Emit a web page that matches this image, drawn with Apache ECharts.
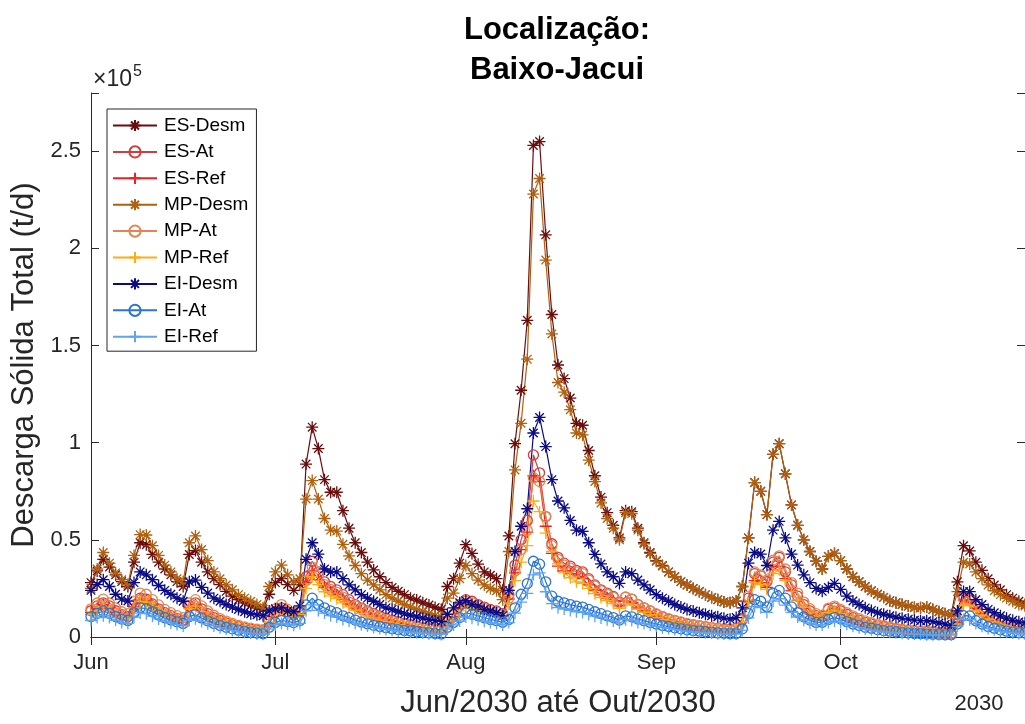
<!DOCTYPE html>
<html>
<head>
<meta charset="utf-8">
<script src="https://cdn.jsdelivr.net/npm/echarts@6/dist/echarts.min.js"></script>
<style>
  html, body { margin: 0; padding: 0; background: #fff; }
  #chart { width: 1025px; height: 724px; }
</style>
</head>
<body>
<div id="chart"></div>
<script>
// Daily total solid discharge, 1 Jun 2030 .. 31 Oct 2030 (values in 10^3 t/d)
const START_UTC = Date.UTC(2030, 5, 1);
const N_DAYS = 153;
const MONTH_TICK_DAYS = [0, 30, 61, 92, 122];
const MONTH_LABELS = ['Jun', 'Jul', 'Aug', 'Sep', 'Oct'];
const Y_TICK_STEP = 50000;
const Y_MAX = 280000;
const UNIT = 1000;

const SERIES_NAMES = ['ES-Desm', 'ES-At', 'ES-Ref', 'MP-Desm', 'MP-At', 'MP-Ref', 'EI-Desm', 'EI-At', 'EI-Ref'];

const ES_DESM = [28,34,40,36,32,28.5,26, 38.5,48.5,47.5,42.5,38.5,35,32,28.5,26,
  42.5,44.5,38.5,33.5,30,27,23.5,21,19.2,17.6,16.2,15,14.2, 22,28,30,27,24,27,
  89,108,97,81,74.5,74.5,65,56,48.5,43.5,38.5,34.5,31,28,25.5,23.5,21.8,20,19,17.6,16.5,15.2,14.2,
  26,30,38,47.5,43,37.5,33.5,31.8,30,24,
  52,99.5,127,163,253,255,207,166,140,133,123,110,109,96,83,72,64,57.5,51,
  65,64.5,56,48.5,43.5,39.3,36.8,33.5,31,28.5,26.8,25,23.4,21.8,20.3,19.2,18,17.6,18.5,
  26,51,79.5,75,63,94,99.5,84,68,57.5,50,44,39,35,41.5,43,39.3,35,31,28.4,26,23.8,22,20.4,18.7,17.6,16.7,15.9,15.2,15,15.5,14.2,13,12,11.4,
  28.4,47,44.3,38.5,34.3,30,26.8,24.3,21.8,20,18.4,16.7];

const ES_AT = [13.5,16,17.6,16,13.5,11.5,10.5, 16.5,20,19.5,17,14.5,12.5,11,9.5,8.5,
  16,17.6,14.5,12,10,8.5,7.2,6.2,5.3,4.6,4,3.6,3.4, 8,13,15,13,11.5,13,
  31,39,33.5,28.4,26,24.3,21.8,19.2,16.7,15,13.4,12,10.9,9.7,8.7,7.9,7,6.4,5.7,5,4.5,4,3.8,
  8.4,11.7,16.7,19.2,18.4,16.7,15.4,14.2,13.4,12,
  21.7,37,50,60,93.7,84.5,62,48,41,38,36.5,34.3,33.5,30,26.8,24.3,22.6,20.9,18,
  20.5,19.5,16.7,15,13.4,11.7,10.4,9.2,8.4,7.5,6.7,6.2,5.7,5.2,4.8,4.4,4.1,4,4.4,
  9,20,32.6,31.5,28.5,38.5,41,33.5,26.8,21,16.7,13.4,11,10.5,14.2,15,13.4,11.7,10,8.7,7.5,6.7,5.9,5.4,4.7,4.2,3.7,3.3,3,2.8,2.7,2.4,2.1,1.9,1.8,
  8.4,21,20,16.5,13.5,11,9.2,7.8,6.7,5.8,5,4.4];

const ES_REF = [12.5,14.5,16.5,15,12.5,10.5,9.5, 15.5,19,18.5,16,13.5,11.5,10,8.8,7.8,
  15,16.5,13.5,11,9.2,7.8,6.6,5.6,4.8,4.2,3.6,3.2,3, 7.5,12,14,12,10.5,12,
  28,34,29.5,25.5,23.3,21.8,19.5,17.2,15,13.4,12,10.8,9.7,8.7,7.8,7,6.3,5.7,5.1,4.5,4,3.6,3.4,
  7.5,10.5,15,17.2,16.5,15,13.8,12.7,12,10.8,
  19.5,33,45,54,83,80,57,43,36.5,34,32.6,30.7,30,26.8,24,21.8,20.2,18.7,16,
  18.4,17.5,15,13.4,12,10.5,9.3,8.2,7.5,6.7,6,5.5,5.1,4.7,4.3,3.9,3.7,3.6,3.9,
  8,18,29,28,25.5,34.5,36.5,30,24,18.8,15,12,9.8,9.4,12.7,13.4,12,10.5,9,7.8,6.7,6,5.3,4.8,4.2,3.8,3.3,3,2.7,2.5,2.4,2.1,1.9,1.7,1.6,
  7.5,19,18,14.8,12,9.8,8.2,7,6,5.2,4.5,4];

const MP_DESM = [25,35,43.5,38,33,29.5,27, 42,52.7,52.5,47,42,37,33.5,30,28.4,
  48.5,52,45,39.3,33.5,30,26.8,24.3,21.8,20,18.4,16.7,15, 26,33.5,37,32,28.4,30,
  71,80.5,71,61,55,54.5,47.7,41.8,36.8,32.6,29.3,26.8,24.3,21.8,20,18.4,16.7,15.4,14.2,13,12,11,10.4,
  20,22.6,30,36.8,32.6,29.3,26.8,25,23.8,19.2,
  44,86,110,143,228,236,194,156,131,126,117,105,104,91,80,69,61,56,50,
  64,63.5,55,48,43,39,36.5,33.5,31,28.5,26.8,25,23.4,21.8,20.3,19.2,18,17.6,18.5,
  26,51,79.5,75,63,94,99.5,84,68,57.5,50,44,39,35,41.5,43,39.3,35,31,28.4,26,23.8,22,20.4,18.7,17.6,16.7,15.9,15.2,15,15.5,14.2,13,12,11.4,
  23.4,38.5,37.6,33.5,30,26.8,23.8,21.8,20,18.4,16.7,15.9];

const MP_AT = [14.5,17.5,19.5,17.5,15,13,12, 18.5,22.6,22,19.2,16.5,14.2,12.5,11,10,
  17.5,19.2,16,13.4,11.2,9.5,8.2,7,6,5.2,4.6,4.1,3.8, 9,14.5,16.7,14.2,12.5,14,
  29,36,31.5,27,24.5,23,20.5,18,15.9,14.2,12.7,11.4,10.3,9.2,8.3,7.5,6.7,6,5.4,4.9,4.4,4,3.7,
  8,11.2,15.9,18.4,17.6,16,14.8,13.7,12.8,11.5,
  20,34,45,55,82,80,62,47,40,37,35.5,33.5,32.6,29.3,26.2,23.8,22,20.4,17.6,
  20.5,19.5,16.7,15,13.4,11.9,10.6,9.5,8.6,7.8,7,6.4,5.9,5.4,5,4.6,4.3,4.2,4.6,
  9.5,21,33.5,32,29.3,39.5,41.8,35,28,22.6,18,14.6,12,11.2,14.8,15.9,14.2,12.5,10.9,9.5,8.3,7.4,6.6,5.9,5.2,4.6,4.1,3.7,3.4,3.2,3.1,2.8,2.5,2.2,2,
  8,19.5,19,16,13.2,10.9,9.2,7.8,6.7,5.8,5.1,4.5];

const MP_REF = [11.5,13.5,15.5,14,12,10.3,9.4, 15,18.4,18,15.7,13.4,11.5,10,8.8,8,
  14.5,15.9,13,10.9,9.2,7.8,6.7,5.7,4.9,4.3,3.8,3.4,3.1, 7.5,12,13.8,11.7,10.3,11.5,
  25,31,27,23.3,21.2,19.8,17.6,15.5,13.7,12.2,10.9,9.8,8.8,7.9,7.1,6.4,5.7,5.1,4.6,4.2,3.8,3.4,3.2,
  6.8,9.6,13.4,15.4,14.8,13.4,12.4,11.5,10.8,9.7,
  17,29,38.5,47,70,64.5,53.5,44,37.6,33,30.5,28.4,27.6,25,22.3,20.3,18.7,17.2,14.8,
  17.2,16.4,14.2,12.7,11.4,10.1,9,8.1,7.3,6.6,6,5.5,5,4.6,4.2,3.9,3.6,3.5,3.9,
  8,17.6,28,27,24.5,32.6,34.5,29,23.5,19,15.3,12.4,10.2,9.6,12.5,13.4,12,10.6,9.2,8,7,6.3,5.6,5,4.4,3.9,3.5,3.1,2.9,2.7,2.6,2.4,2.1,1.9,1.7,
  6.8,16.5,16,13.4,11.2,9.2,7.8,6.6,5.7,4.9,4.3,3.8];

const EI_DESM = [24,27,29.5,26,22,19.5,18.5, 28,33.5,32,29.5,26.5,24,22,20,18.4,
  28.4,29.3,25.5,22.6,20,18.4,16.7,15.4,14.2,13,12,11.4,10.9, 13.4,14.5,15,13.4,13,16,
  40,48.5,42.7,35,33.5,33.5,30,26.8,24.3,21.8,20,18.4,16.7,15,14.2,13,12,11.2,10.4,9.7,8.9,8.4,8,
  11.7,15,17.6,18.7,16.7,15.9,14.2,13.4,12.5,11,
  24,44,57,66,105,113,98,81,70,66.5,60,55,54.4,48.5,42.5,37.6,33.5,31,27.6,
  33.5,32.6,29.3,26.8,24.3,21.8,20,18.4,16.7,15.4,14.2,13.4,12.5,11.7,10.9,10.4,9.7,9.2,10,
  15,38,43.5,42.7,36.8,55,59.5,51,42.7,37,32,28,25,23.5,25.5,27.6,24.5,21,18.5,16.7,15,13.7,12.5,11.7,10.9,10.2,9.6,9.2,8.7,8.4,8.4,7.9,7.2,6.6,5.9,
  13.4,23.4,23.4,19.2,16.7,14.2,12.5,10.9,9.7,8.6,7.8,7.3];

const EI_AT = [10.5,12.2,13.4,12.2,10.5,9.2,8.5, 12.5,15,14.6,13,11.3,9.9,8.8,7.8,7,
  10.5,11.5,9.8,8.3,7,5.9,5,4.2,3.5,2.9,2.4,2,1.7, 5,7.5,8.5,8,7.4,8.5,
  16.5,20,16.7,15,13.4,12.5,10.9,10,8.7,7.7,6.8,6,5.4,4.8,4.3,3.8,3.4,3.1,2.7,2.4,2.1,1.8,1.6,
  5,7.5,10,12.5,11.7,10.9,9.9,9,8.4,7.6,
  9,15,22,27.5,39,37.5,28.4,21,18.4,17.6,16.7,15.9,15.4,14.2,13,12,10.9,10,8.7,
  10.9,10.4,9.2,8.4,7.5,6.7,5.9,5.4,4.7,4.2,3.7,3.3,3,2.7,2.4,2.1,1.9,1.7,1.8,
  4.2,12,19.2,18.4,15.5,22.6,24,20,15.5,12.5,10.4,8.7,7.5,7.6,9,10,9.2,7.9,6.7,5.9,5,4.5,3.8,3.3,3,2.7,2.3,2,1.8,1.7,1.5,1.4,1.3,1.2,1.2,
  6.7,11,10.9,8.4,6.7,5.4,4.5,3.7,3,2.5,2.2,2];

const EI_REF = [8.5,10,11,10,8.6,7.5,7, 10.2,12.3,12,10.7,9.3,8.1,7.2,6.4,5.7,
  8.6,9.4,8,6.8,5.7,4.8,4.1,3.4,2.9,2.4,2,1.6,1.4, 4.1,6.2,7,6.6,6.1,7,
  13.5,16.5,13.7,12.3,11,10.3,9,8.2,7.1,6.3,5.6,4.9,4.4,3.9,3.5,3.1,2.8,2.5,2.2,2,1.7,1.5,1.3,
  4.1,6.2,8.2,10.3,9.6,8.9,8.1,7.4,6.9,6.2,
  7.4,12.3,18,22.5,32,33,23.3,17.2,15.1,14.4,13.7,13,12.6,11.6,10.7,9.8,8.9,8.2,7.1,
  8.9,8.5,7.5,6.9,6.2,5.5,4.8,4.4,3.9,3.4,3,2.7,2.5,2.2,2,1.7,1.6,1.4,1.5,
  3.4,9.8,15.7,15.1,12.7,18.5,19.7,16.4,12.7,10.3,8.5,7.1,6.2,6.2,7.4,8.2,7.5,6.5,5.5,4.8,4.1,3.7,3.1,2.7,2.5,2.2,1.9,1.6,1.5,1.4,1.2,1.1,1.1,1,1,
  5.5,9,8.9,6.9,5.5,4.4,3.7,3,2.5,2.1,1.8,1.6];

const SERIES_VALUES = [ES_DESM, ES_AT, ES_REF, MP_DESM, MP_AT, MP_REF, EI_DESM, EI_AT, EI_REF];
const SERIES_COLORS = ['#6b0d0d', '#d23c3c', '#f41e1e', '#b0600e', '#e38552', '#ffac10', '#0b0b86', '#2a74d2', '#5ea4f2'];

// Marker shapes: asterisk, open circle and plus, drawn as stroked outlines
const STAR = 'path://M0,-10L0,10M-10,0L10,0M-7.1,-7.1L7.1,7.1M-7.1,7.1L7.1,-7.1';
const PLUS = 'path://M0,-10L0,10M-10,0L10,0';
const SERIES_MARKERS = [STAR, 'circle', PLUS, STAR, 'circle', PLUS, STAR, 'circle', PLUS];

const FONT = "'Liberation Sans', Arial, Helvetica, sans-serif";
const AXIS_COLOR = '#2b2b2b';

const days = [];
for (let i = 0; i < N_DAYS; i++) {
  days.push(new Date(START_UTC + i * 86400000).toISOString().slice(0, 10));
}
const isMonthStart = (i) => MONTH_TICK_DAYS.indexOf(i) >= 0;

const series = SERIES_NAMES.map((name, k) => ({
  name,
  type: 'line',
  data: SERIES_VALUES[k].map(v => v * UNIT),
  symbol: SERIES_MARKERS[k],
  symbolSize: SERIES_MARKERS[k] === 'circle' ? 10 : 12,
  showAllSymbol: true,
  color: SERIES_COLORS[k],
  lineStyle: { color: SERIES_COLORS[k], width: 1.2 },
  itemStyle: { color: 'rgba(0,0,0,0)', borderColor: SERIES_COLORS[k], borderWidth: 1.3 },
  emphasis: { disabled: true },
  silent: true,
  z: 2
}));

const chart = echarts.init(document.getElementById('chart'), null, { renderer: 'canvas' });
chart.setOption({
  animation: false,
  backgroundColor: '#ffffff',
  textStyle: { fontFamily: FONT },
  grid: { left: 91, top: 93, width: 936, height: 557, containLabel: false },
  legend: {
    data: SERIES_NAMES,
    orient: 'vertical',
    left: 107,
    top: 109,
    padding: [7, 8, 5, 5],
    itemWidth: 44,
    itemHeight: 14,
    itemGap: 7.4,
    backgroundColor: '#ffffff',
    borderColor: '#262626',
    borderWidth: 1,
    borderRadius: 0,
    selectedMode: false,
    textStyle: { fontFamily: FONT, fontSize: 19, color: '#000', lineHeight: 14, padding: [0, 0, 0, 2] }
  },
  xAxis: [
    {
      type: 'category',
      data: days,
      boundaryGap: false,
      position: 'bottom',
      axisLine: { show: true, lineStyle: { color: AXIS_COLOR, width: 1 } },
      axisTick: { show: true, inside: true, length: 8, interval: isMonthStart, lineStyle: { color: AXIS_COLOR } },
      axisLabel: {
        interval: isMonthStart,
        formatter: (val, i) => MONTH_LABELS[MONTH_TICK_DAYS.indexOf(i)] || '',
        fontSize: 22, color: '#262626', margin: 15, fontFamily: FONT
      },
      splitLine: { show: false },
      name: 'Jun/2030 até Out/2030',
      nameLocation: 'middle',
      nameGap: 51,
      nameTextStyle: { fontSize: 31, color: '#262626', fontFamily: FONT }
    },
    {
      type: 'category',
      data: days,
      boundaryGap: false,
      position: 'top',
      axisLine: { show: true, lineStyle: { color: AXIS_COLOR, width: 1 } },
      axisTick: { show: true, inside: true, length: 8, interval: isMonthStart, lineStyle: { color: AXIS_COLOR } },
      axisLabel: { show: false },
      splitLine: { show: false }
    }
  ],
  yAxis: [
    {
      type: 'value',
      min: 0,
      max: Y_MAX,
      interval: Y_TICK_STEP,
      position: 'left',
      axisLine: { show: true, lineStyle: { color: AXIS_COLOR, width: 1 } },
      axisTick: { show: true, inside: true, length: 8, lineStyle: { color: AXIS_COLOR } },
      axisLabel: {
        formatter: v => (v % Y_TICK_STEP === 0 ? String(v / 1e5) : ''),
        fontSize: 22, color: '#262626', margin: 10, fontFamily: FONT
      },
      splitLine: { show: false },
      name: 'Descarga Sólida Total (t/d)',
      nameLocation: 'middle',
      nameGap: 40,
      nameTextStyle: { fontSize: 31, color: '#262626', fontFamily: FONT }
    },
    {
      type: 'value',
      min: 0,
      max: Y_MAX,
      interval: Y_TICK_STEP,
      position: 'right',
      axisLine: { show: true, lineStyle: { color: AXIS_COLOR, width: 1 } },
      axisTick: { show: true, inside: true, length: 8, lineStyle: { color: AXIS_COLOR } },
      axisLabel: { show: false },
      splitLine: { show: false }
    }
  ],
  graphic: [
    { type: 'text', x: 557, y: 30, style: { text: 'Localização:', fontFamily: FONT, fontSize: 31, fontWeight: 'bold', fill: '#000', align: 'center', verticalAlign: 'middle' } },
    { type: 'text', x: 557, y: 70, style: { text: 'Baixo-Jacui', fontFamily: FONT, fontSize: 31, fontWeight: 'bold', fill: '#000', align: 'center', verticalAlign: 'middle' } },
    { type: 'text', x: 93, y: 80, style: { text: '×10', fontFamily: FONT, fontSize: 23, fill: '#262626', align: 'left', verticalAlign: 'middle' } },
    { type: 'text', x: 133, y: 72, style: { text: '5', fontFamily: FONT, fontSize: 16, fill: '#262626', align: 'left', verticalAlign: 'middle' } },
    { type: 'text', x: 979, y: 704, style: { text: '2030', fontFamily: FONT, fontSize: 22, fill: '#262626', align: 'center', verticalAlign: 'middle' } }
  ],
  series
});
</script>
</body>
</html>
